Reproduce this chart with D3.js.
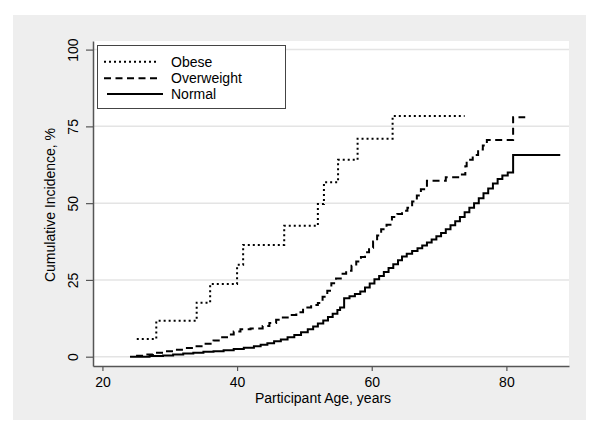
<!DOCTYPE html>
<html><head><meta charset="utf-8">
<script src="https://cdn.jsdelivr.net/npm/d3@7"></script>
<style>body{margin:0;background:#fff}svg{display:block}text{font-family:"Liberation Sans",Arial,sans-serif}</style>
</head><body>
<script>
const xTicks = [20, 40, 60, 80];
const yTicks = [0, 25, 50, 75, 100];
const seriesNames = ["Obese", "Overweight", "Normal"];
// step points: [age, cumulative incidence %]; last point marks where the curve ends
const obese = [[25.1,5.8],[28,11.7],[34,17.6],[36,23.7],[40,29.9],[40.9,36.4],[47,42.6],[52,49.7],[52.9,56.8],[55,64.1],[57.9,71.0],[63.1,78.4],[73.8,78.4]];
const overweight = [[25,0.3],[26.5,0.7],[27.5,1.3],[29,1.8],[30.5,2.3],[32,2.8],[33.5,3.4],[35,4.2],[36.5,5.3],[37.5,6.3],[38.5,7.2],[39.5,8.2],[40.5,8.9],[42,9.2],[43.8,10.0],[44.8,11.0],[45.8,12.0],[46.8,12.8],[47.8,13.6],[48.8,14.5],[49.8,16.0],[51,16.8],[52,17.5],[52.7,19.5],[53.4,21.5],[54,23.9],[54.7,25.5],[55.4,27.0],[56.2,28.0],[57,29.6],[57.7,31.0],[58.4,32.5],[59,34.0],[59.6,35.5],[60.2,37.5],[60.8,39.5],[61.4,41.5],[62.2,43.0],[63,45.5],[63.8,46.5],[64.5,47.5],[65.3,48.5],[66,50.5],[66.7,52.5],[67.3,54.5],[68.2,57.3],[71,58.4],[73,59.3],[73.9,62.0],[74.1,64.1],[75,65.7],[75.8,67.5],[76.5,68.8],[77.1,70.6],[81,78.0],[82.8,78.0]];
const normal = [[24.1,0],[27,0.2],[29,0.4],[30.5,0.7],[32,1.0],[33.5,1.3],[35,1.6],[36.5,1.8],[38,2.1],[39.5,2.5],[41,2.9],[42.5,3.4],[43.5,3.9],[44.5,4.4],[45.5,5.0],[46.5,5.6],[47.5,6.3],[48.5,7.1],[49.5,8.0],[50.5,8.9],[51.3,9.8],[52,10.8],[52.8,11.8],[53.5,12.9],[54.2,14.0],[54.9,15.2],[55.3,16.0],[55.9,19.0],[56.7,19.7],[57.5,20.4],[58.3,21.2],[59,22.5],[59.7,23.8],[60.4,25.2],[61.1,26.3],[61.8,27.6],[62.5,28.9],[63.2,30.1],[63.9,31.4],[64.5,32.6],[65.2,33.5],[66,34.4],[66.8,35.3],[67.5,36.2],[68.2,37.2],[68.9,38.2],[69.6,39.2],[70.3,40.3],[71,41.5],[71.7,42.8],[72.4,44.1],[73.1,45.5],[73.8,47.0],[74.5,48.5],[75.2,50.0],[75.9,51.6],[76.6,53.2],[77.3,54.8],[78,56.4],[78.7,57.9],[79.4,59.0],[80.2,60.0],[81,65.7],[88,65.7]];
const seriesData = [obese, overweight, normal];
const dashes = ["2,3", "7,4.5", null];

const W = 601, H = 447;
const svg = d3.select("body").append("svg").attr("width", W).attr("height", H);
svg.append("rect").attr("x", 13).attr("y", 15).attr("width", 573).attr("height", 405).attr("fill", "#eeeeee");

const x = d3.scaleLinear().domain([18.6, 89.3]).range([93, 569]);
const y = d3.scaleLinear().domain([-3.03, 102.8]).range([366, 41]);

svg.append("rect").attr("x", 93).attr("y", 41).attr("width", 476).attr("height", 325).attr("fill", "#fff");

// grid
svg.append("g").selectAll("line").data(yTicks).join("line")
  .attr("x1", 93).attr("x2", 569).attr("y1", d => y(d)).attr("y2", d => y(d))
  .attr("stroke", "#e4e4e4").attr("stroke-width", 1.5);

// axes
const xa = svg.append("g").attr("transform", "translate(0,366)")
  .call(d3.axisBottom(x).tickValues(xTicks).tickSize(5).tickSizeOuter(0));
const ya = svg.append("g").attr("transform", "translate(93,0)")
  .call(d3.axisLeft(y).tickValues(yTicks).tickSize(7).tickSizeOuter(0));
[xa, ya].forEach(g => {
  g.select(".domain").attr("stroke", "#555").attr("stroke-width", 1.5);
  g.selectAll(".tick line").attr("stroke", "#555").attr("stroke-width", 1.2);
  g.selectAll("text").attr("font-size", 14).attr("fill", "#000").attr("font-family", '"Liberation Sans",Arial,sans-serif');
});
xa.selectAll(".tick text").attr("y", 21).attr("dy", 0);
ya.selectAll(".tick text").attr("transform", "rotate(-90)").attr("x", 0).attr("y", -15)
  .attr("dy", 0).attr("text-anchor", "middle");

// curves
const line = d3.line().x(d => x(d[0])).y(d => y(d[1])).curve(d3.curveStepAfter);
seriesData.forEach((s, i) => {
  svg.append("path").datum(s).attr("d", line).attr("fill", "none")
    .attr("stroke", "#000").attr("stroke-width", 2)
    .attr("stroke-dasharray", dashes[i]);
});

// titles
svg.append("text").attr("x", 323).attr("y", 403).attr("text-anchor", "middle")
  .attr("font-size", 14).text("Participant Age, years");
svg.append("text").attr("transform", "translate(55,205) rotate(-90)").attr("text-anchor", "middle")
  .attr("font-size", 14).text("Cumulative Incidence, %");

// legend
const lg = svg.append("g");
lg.append("rect").attr("x", 97.5).attr("y", 45.5).attr("width", 188).attr("height", 63)
  .attr("fill", "#fff").attr("stroke", "#444").attr("stroke-width", 1);
const lgY = [61.7, 78.3, 94];
const lgX1 = [104, 104, 107], lgX2 = [156, 160, 163];
seriesNames.forEach((n, i) => {
  lg.append("line").attr("x1", lgX1[i]).attr("x2", lgX2[i]).attr("y1", lgY[i]).attr("y2", lgY[i])
    .attr("stroke", "#000").attr("stroke-width", 2).attr("stroke-dasharray", dashes[i]);
  lg.append("text").attr("x", 171).attr("y", lgY[i] + 5).attr("font-size", 14).text(n);
});
</script>
</body></html>
